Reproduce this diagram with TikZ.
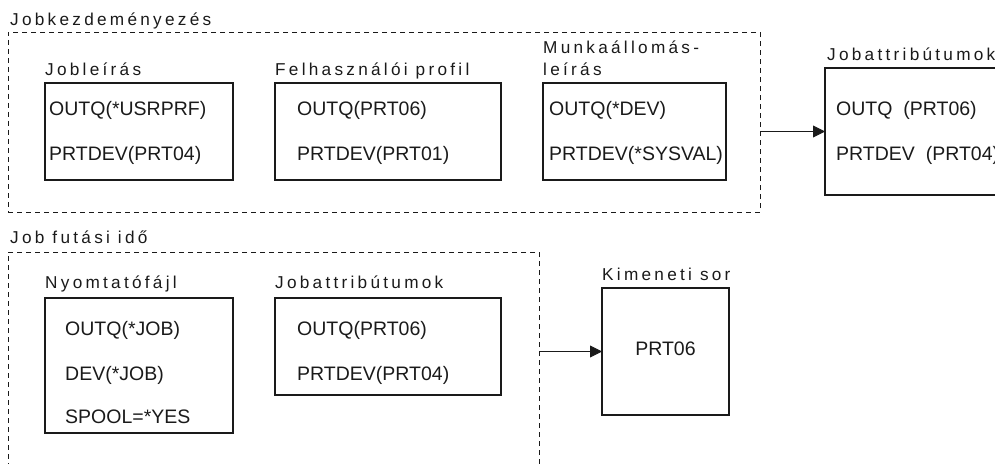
\documentclass[tikz,border=0pt]{standalone}
\usepackage{fontspec}
\setmainfont{Liberation Sans}
\newfontfamily\lblfont[LetterSpace=19]{Liberation Sans}
\usetikzlibrary{arrows.meta}
\definecolor{ink}{HTML}{1A1A1A}
\tikzset{
  grp/.style={draw=ink, line width=0.9pt, dash pattern=on 5pt off 4pt,
              anchor=north west, inner sep=0pt, outer sep=0pt},
  box/.style={draw=ink, line width=1.2pt, anchor=north west,
              inner sep=0pt, outer sep=0pt},
  val/.style={anchor=base west, inner sep=0pt, text=ink,
              font=\fontsize{19.5}{22}\selectfont},
  lbl/.style={anchor=base west, inner sep=0pt, text=ink,
              font=\lblfont\fontsize{17.2}{20}\selectfont},
  conn/.style={draw=ink, line width=0.9pt,
               -{Triangle[length=12pt,width=12pt]}},
}
\begin{document}
\begin{tikzpicture}[x=1pt,y=-1pt]
\useasboundingbox (0,0) rectangle (995,463);
\clip (0,0) rectangle (995,463);

% --- job initiation group ---
\node[grp, minimum width=752pt, minimum height=180pt] (grpA) at (8,32) {};
\node[lbl] (grpAlbl) at (10,25) {Jobkezdeményezés};

\node[lbl] (jdlbl) at (45,75) {Jobleírás};
\node[box, minimum width=188pt, minimum height=97pt] (jd) at (45,83) {};
\node[val] (jd1) at (49,115) {OUTQ(*USRPRF)};
\node[val] (jd2) at (49,160) {PRTDEV(PRT04)};

\node[lbl] (uplbl) at (275,75) {Felhasználói  profil};
\node[box, minimum width=226pt, minimum height=97pt] (up) at (275,83) {};
\node[val] (up1) at (297,115) {OUTQ(PRT06)};
\node[val] (up2) at (297,160) {PRTDEV(PRT01)};

\node[lbl] (wslbl1) at (543,53) {Munkaállomás-};
\node[lbl] (wslbl2) at (543,75) {leírás};
\node[box, minimum width=183pt, minimum height=97pt] (ws) at (543,83) {};
\node[val] (ws1) at (549,115) {OUTQ(*DEV)};
\node[val] (ws2) at (549,160) {PRTDEV(*SYSVAL)};

% resulting job attributes
\node[lbl] (jalbl) at (827,60) {Jobattribútumok};
\node[box, minimum width=190pt, minimum height=127pt] (ja) at (825,68) {};
\node[val] (ja1) at (836,115) {OUTQ\ \ (PRT06)};
\node[val] (ja2) at (836,160) {PRTDEV\ \ (PRT04)};

\draw[conn] (grpA.east |- ja.west) -- (ja.west);

% --- job run time group ---
\node[grp, minimum width=531pt, minimum height=230pt] (grpB) at (8,252) {};
\node[lbl] (grpBlbl) at (10,243) {Job  futási  idő};

\node[lbl] (pflbl) at (45,288) {Nyomtatófájl};
\node[box, minimum width=188pt, minimum height=135pt] (pf) at (45,298) {};
\node[val] (pf1) at (65,335) {OUTQ(*JOB)};
\node[val] (pf2) at (65,380) {DEV(*JOB)};
\node[val] (pf3) at (65,423) {SPOOL=*YES};

\node[lbl] (jrlbl) at (275,288) {Jobattribútumok};
\node[box, minimum width=226pt, minimum height=97pt] (jr) at (275,298) {};
\node[val] (jr1) at (297,335) {OUTQ(PRT06)};
\node[val] (jr2) at (297,380) {PRTDEV(PRT04)};

% output queue
\node[lbl] (oqlbl) at (602,280) {Kimeneti  sor};
\node[box, minimum width=127pt, minimum height=127pt] (oq) at (602,288) {};
\node[val, anchor=base] (oq1) at (oq.center |- 0,355) {PRT06};

\draw[conn] (grpB.east |- oq.west) -- (oq.west);
\end{tikzpicture}
\end{document}
